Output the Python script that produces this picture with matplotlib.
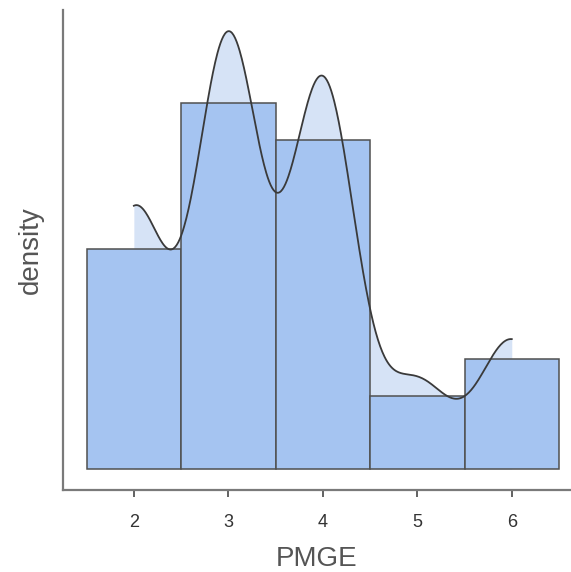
import numpy as np
import matplotlib
matplotlib.use("Agg")
import matplotlib.pyplot as plt

values = [2, 3, 4, 5, 6]
counts = [6, 10, 9, 2, 3]
bin_edges = [1.5, 2.5, 3.5, 4.5, 5.5, 6.5]
xticks = [2, 3, 4, 5, 6]

data = np.repeat(values, counts).astype(float)
n = len(data)

# R's bw.nrd0 bandwidth
sd = data.std(ddof=1)
q75, q25 = np.percentile(data, [75, 25])
bw = 0.9 * min(sd, (q75 - q25) / 1.34) * n ** (-0.2)

xs = np.linspace(data.min(), data.max(), 512)
dens = np.exp(-0.5 * ((xs[:, None] - data[None, :]) / bw) ** 2).sum(axis=1) / (n * bw * np.sqrt(2 * np.pi))

plt.rcParams['font.family'] = ['Liberation Sans', 'DejaVu Sans']
fig = plt.figure(figsize=(5.71, 5.72), dpi=100)
ax = fig.add_axes([63/571, (572-490)/572, 1 - 63/571, (490-10)/572])

ax.fill_between(xs, dens, 0, color='#d6e3f6', zorder=1, linewidth=0)
ax.hist(data, bins=bin_edges, density=True, color='#a5c4f1', edgecolor='#505050', linewidth=1.1, zorder=2)
ax.plot(xs, dens, color='#3a3a3a', linewidth=1.3, zorder=3)

ax.set_xlim(1.25, 6.627)
ax.set_ylim(-0.0191, 0.418)
ax.set_yticks([])
ax.set_xticks(xticks)
ax.set_xticklabels([str(t) for t in xticks])
ax.tick_params(axis='x', length=5, width=1.3, color='#555555', labelsize=13, labelcolor='#333333', pad=12)

for s in ['top', 'right']:
    ax.spines[s].set_visible(False)
for s in ['left', 'bottom']:
    ax.spines[s].set_color('#7a7a7a')
    ax.spines[s].set_linewidth(1.6)

ax.set_xlabel('PMGE', fontsize=20, color='#555555', labelpad=11)
ax.set_ylabel('density', fontsize=20, color='#555555', labelpad=14)

fig.savefig('out.png', dpi=100, facecolor='white')
